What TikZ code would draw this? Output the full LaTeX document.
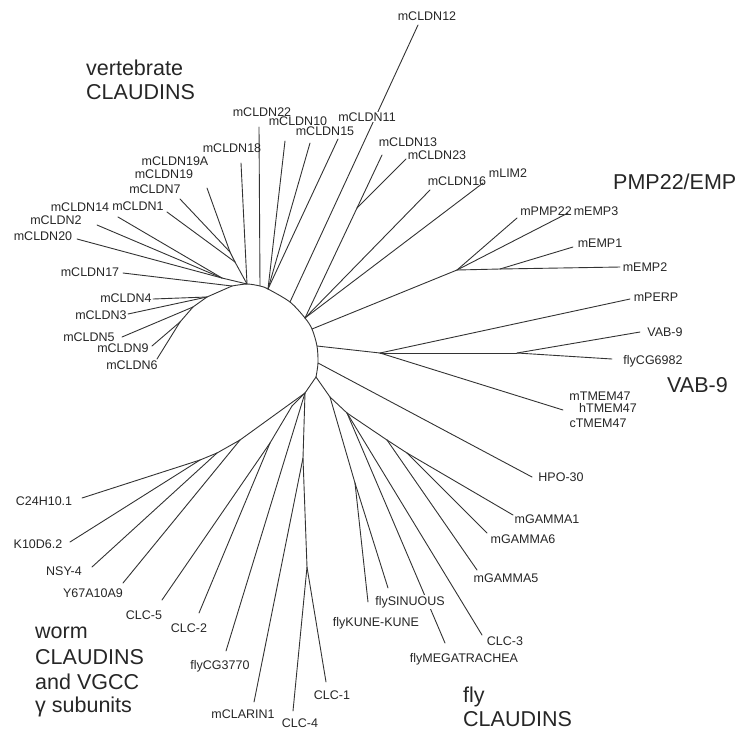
\documentclass[tikz,border=0pt]{standalone}
\usepackage{fontspec}
\setmainfont{Liberation Sans}
\usepackage{tikz}

\begin{document}
\begin{tikzpicture}[x=1pt,y=-1pt,
    every node/.style={inner sep=0pt,text=black!85,font=\fontsize{12.5}{12.5}\selectfont},
    group/.style={anchor=west,font=\fontsize{21.5}{24}\selectfont},
    hide/.style={fill=white,inner sep=1pt},
    branch/.style={draw=black!80,line width=0.9pt,line cap=round}]
  \useasboundingbox (0,0) rectangle (736,732);

  \coordinate (La) at (232,286);
  \coordinate (Lu) at (247,284);
  \coordinate (P2) at (260,286);
  \coordinate (P3) at (268,289);
  \coordinate (P4) at (290,302);
  \coordinate (P5) at (305,318);
  \coordinate (P6) at (312,329);
  \coordinate (P7) at (317,346);
  \coordinate (P8) at (318,363);
  \coordinate (B0) at (316,377);

  \coordinate (Lb) at (207,297);
  \coordinate (Lc) at (193,307);
  \coordinate (Ld) at (180,322);
  \coordinate (Lx) at (222,278);
  \coordinate (Lv) at (230,252);
  \coordinate (Lw) at (235,262);
  \coordinate (C23) at (357,208);
  \coordinate (E0) at (457,270);
  \coordinate (E1) at (500,269);
  \coordinate (V0) at (380,353);
  \coordinate (V1) at (517,353);
  \coordinate (W0) at (305,393);
  \coordinate (W1) at (240,440);
  \coordinate (W2) at (217,453);
  \coordinate (W3) at (200,460);
  \coordinate (W5) at (303,458);
  \coordinate (W6) at (307,567);
  \coordinate (W7) at (292,406);
  \coordinate (W8) at (270,443);
  \coordinate (F0) at (330,397);
  \coordinate (Fk) at (355,483);
  \coordinate (F1) at (347,413);
  \coordinate (G0) at (387,440);
  \coordinate (G1) at (407,453);

  \coordinate (t22) at (259,127);
  \coordinate (t10) at (285,141);
  \coordinate (t15) at (310,143);
  \coordinate (t11) at (338,139);
  \coordinate (t12) at (418,25);
  \coordinate (t13) at (382,155);
  \coordinate (t23) at (406,159);
  \coordinate (t16) at (430,190);
  \coordinate (tLIM) at (483,183);
  \coordinate (t18) at (241,163);
  \coordinate (t19) at (207,188);
  \coordinate (t7) at (180,199);
  \coordinate (t1) at (167,212);
  \coordinate (t14) at (118,217);
  \coordinate (t2) at (97,225);
  \coordinate (t20) at (77,239);
  \coordinate (t17) at (123,273);
  \coordinate (t4) at (153,299);
  \coordinate (t3) at (128,314);
  \coordinate (t5) at (122,337);
  \coordinate (t9) at (152,346);
  \coordinate (t6) at (157,359);
  \coordinate (tPMP) at (517,218);
  \coordinate (tEMP3) at (568,213);
  \coordinate (tEMP1) at (573,247);
  \coordinate (tEMP2) at (620,267);
  \coordinate (tPERP) at (630,299);
  \coordinate (tVAB) at (640,332);
  \coordinate (tCG69) at (612,359);
  \coordinate (tTM) at (563,410);
  \coordinate (tHPO) at (532,477);
  \coordinate (tG1) at (513,515);
  \coordinate (tG6) at (487,533);
  \coordinate (tG5) at (477,570);
  \coordinate (tC3) at (482,635);
  \coordinate (tMEG) at (445,643);
  \coordinate (tSIN) at (388,588);
  \coordinate (tKUN) at (368,602);
  \coordinate (tC1) at (326,682);
  \coordinate (tC4) at (293,711);
  \coordinate (tCLA) at (254,702);
  \coordinate (tCG37) at (226,651);
  \coordinate (tC2) at (199,613);
  \coordinate (tC5) at (162,600);
  \coordinate (tY67) at (123,583);
  \coordinate (tNSY) at (92,567);
  \coordinate (tK10) at (70,542);
  \coordinate (tC24) at (82,498);

  \draw[branch] plot[smooth,tension=0.5] coordinates {(La) (Lu) (P2) (P3) (P4) (P5) (P6) (P7) (P8) (B0)};
  \foreach \a/\b in {La/t17,La/Lb,Lb/t4,Lb/t3,Lb/Lc,Lc/t5,Lc/Ld,Ld/t9,Ld/t6,
      Lu/Lx,Lx/t14,Lx/t2,Lx/t20,Lu/Lw,Lw/Lv,Lw/t1,Lv/t19,Lv/t7,Lu/t18,
      P2/t22,P3/t10,P3/t15,P3/t11,P4/t12,P5/C23,C23/t13,C23/t23,P5/t16,P5/tLIM,
      P6/E0,E0/tPMP,E0/tEMP3,E0/E1,E1/tEMP1,E1/tEMP2,
      P7/V0,V0/tPERP,V0/V1,V1/tVAB,V1/tCG69,V0/tTM,P8/tHPO,
      B0/W0,W0/W1,W1/W2,W2/W3,W3/tC24,W3/tK10,W2/tNSY,W1/tY67,
      W0/W7,W7/W8,W8/tC5,W8/tC2,W0/tCG37,W0/W5,W5/tCLA,W5/W6,W6/tC4,W6/tC1,
      B0/F0,F0/Fk,Fk/tKUN,Fk/tSIN,F0/F1,F1/tMEG,F1/tC3,F1/G0,G0/tG5,G0/G1,G1/tG6,G1/tG1}
    \draw[branch] (\a) -- (\b);

  \node (l22) at (262,112) {mCLDN22};
  \node (l10) at (298,121) {mCLDN10};
  \node (l15) at (325,131) {mCLDN15};
  \node[hide] (l11) at (367,117) {mCLDN11};
  \node (l12) at (427,16) {mCLDN12};
  \node (l13) at (408,142) {mCLDN13};
  \node (l23) at (437,155) {mCLDN23};
  \node (l16) at (457,181) {mCLDN16};
  \node (lLIM) at (508,173) {mLIM2};
  \node (l18) at (232,148) {mCLDN18};
  \node (l19A) at (175,161) {mCLDN19A};
  \node (l19) at (164,174) {mCLDN19};
  \node (l7) at (155,189) {mCLDN7};
  \node (l1) at (138,206) {mCLDN1};
  \node (l14) at (80,207) {mCLDN14};
  \node (l2) at (56,220) {mCLDN2};
  \node (l20) at (43,236) {mCLDN20};
  \node (l17) at (90,272) {mCLDN17};
  \node (l4) at (126,298) {mCLDN4};
  \node (l3) at (101,315) {mCLDN3};
  \node (l5) at (89,337) {mCLDN5};
  \node (l9) at (123,348) {mCLDN9};
  \node (l6) at (132,365) {mCLDN6};

  \node (lPMP) at (546,211) {mPMP22};
  \node (lEMP3) at (596,211) {mEMP3};
  \node (lEMP1) at (600,243) {mEMP1};
  \node (lEMP2) at (645,267) {mEMP2};
  \node (lPERP) at (656,297) {mPERP};
  \node (lVAB) at (665,332) {VAB-9};
  \node (lCG69) at (653,361) {flyCG6982};
  \node (lmTM) at (600,396) {mTMEM47};
  \node (lhTM) at (608,408) {hTMEM47};
  \node (lcTM) at (598,423) {cTMEM47};
  \node (lHPO) at (561,477) {HPO-30};

  \node (lG1) at (547,519) {mGAMMA1};
  \node (lG6) at (523,539) {mGAMMA6};
  \node (lG5) at (506,578) {mGAMMA5};
  \node (lC3) at (505,641) {CLC-3};
  \node (lMEG) at (464,659) {flyMEGATRACHEA};
  \node[hide] (lSIN) at (410,602) {flySINUOUS};
  \node (lKUN) at (376,623) {flyKUNE-KUNE};

  \node (lC1) at (332,695) {CLC-1};
  \node (lC4) at (300,723) {CLC-4};
  \node (lCLA) at (243,714) {mCLARIN1};
  \node (lCG37) at (220,666) {flyCG3770};
  \node (lC2) at (189,628) {CLC-2};
  \node (lC5) at (144,615) {CLC-5};
  \node (lY67) at (93,593) {Y67A10A9};
  \node (lNSY) at (64,571) {NSY-4};
  \node (lK10) at (38,544) {K10D6.2};
  \node (lC24) at (44,501) {C24H10.1};

  \node[group] (gv1) at (86,68) {vertebrate};
  \node[group] (gv2) at (86,92) {CLAUDINS};
  \node[group] (gp) at (613,182) {PMP22/EMP};
  \node[group] (gvab) at (667,385) {VAB-9};
  \node[group] (gw1) at (35,633) {worm};
  \node[group] (gw2) at (35,657) {CLAUDINS};
  \node[group] (gw3) at (35,682) {and VGCC};
  \node[group] (gw4) at (35,707) {γ subunits};
  \node[group] (gf1) at (463,697) {fly};
  \node[group] (gf2) at (463,719) {CLAUDINS};
\end{tikzpicture}
\end{document}
